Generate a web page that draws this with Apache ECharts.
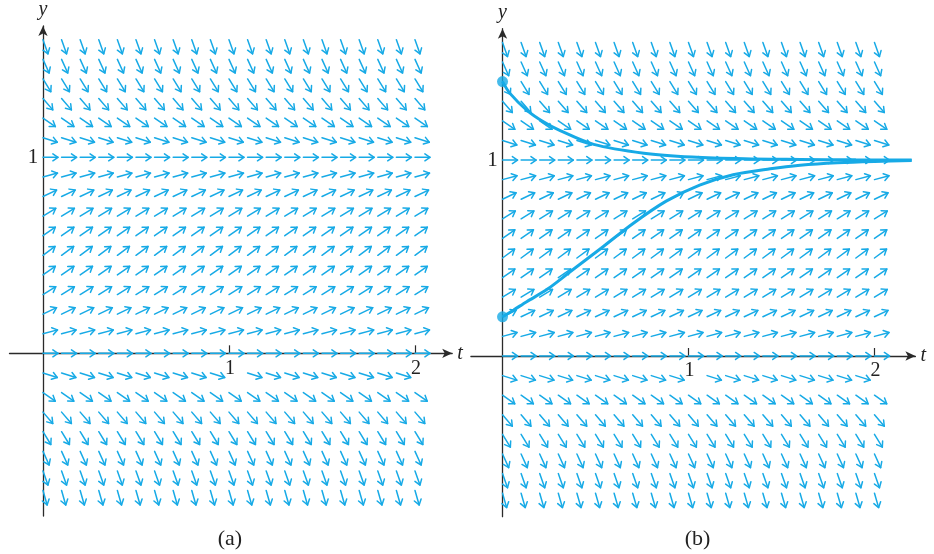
<!DOCTYPE html>
<html>
<head>
<meta charset="utf-8">
<script src="https://cdn.jsdelivr.net/npm/echarts@6/dist/echarts.min.js"></script>
<style>
html,body{margin:0;padding:0;background:#fff;}
#chart{width:934px;height:554px;}
</style>
</head>
<body>
<div id="chart"></div>
<script>
// Grid columns (t) and rows (y) of the slope field
const tColumns = [0,0.1,0.2,0.3,0.4,0.5,0.6,0.7,0.8,0.9,1.0,1.1,1.2,1.3,1.4,1.5,1.6,1.7,1.8,1.9,2.0];
const yRows    = [1.6,1.5,1.4,1.3,1.2,1.1,1.0,0.9,0.8,0.7,0.6,0.5,0.4,0.3,0.2,0.1,0.0,-0.1,-0.2,-0.3,-0.4,-0.5,-0.6,-0.7];
// slope dy/dt read per row (field depends only on y)
const rowSlopes = [-2.7,-2.1,-1.55,-1.1,-0.65,-0.3,0,0.25,0.45,0.58,0.66,0.7,0.66,0.58,0.45,0.25,0,-0.3,-0.67,-1.1,-1.55,-2.1,-2.7,-3.3];
// arrows left out next to the t tick labels: [t, y]
const skippedArrows = [[1.0,-0.1],[2.0,-0.1]];

// Solution curves of panel (b)
const upperT = [0,0.04,0.13,0.22,0.31,0.49,0.76,1.02,1.3,1.6,1.9,2.2];
const upperY = [1.4,1.34,1.255,1.195,1.15,1.08,1.035,1.015,1.006,1.003,1.001,1.0];
const lowerT = [0,0.06,0.13,0.24,0.36,0.53,0.70,0.88,1.06,1.24,1.44,1.6,1.8,2.0,2.2];
const lowerY = [0.2,0.235,0.277,0.34,0.427,0.55,0.675,0.79,0.872,0.925,0.955,0.973,0.986,0.993,0.997];
const initialPoints = [[0,1.4],[0,0.2]];

// Axis tick labels
const tTickLabels = [1,2];
const yTickLabels = [1];
const captions = ['(a)','(b)'];

const BLUE = '#17aae6';
const AXIS = '#2a2a2a';
const SERIF = '"Liberation Serif","DejaVu Serif",serif';

const fieldData = [];
yRows.forEach((y, i) => {
  tColumns.forEach(t => {
    const skip = skippedArrows.some(s => Math.abs(s[0]-t) < 1e-9 && Math.abs(s[1]-y) < 1e-9);
    if (!skip) fieldData.push([t, y, rowSlopes[i]]);
  });
});

function renderArrow(params, api) {
  const t = api.value(0), y = api.value(1), s = api.value(2);
  const p0 = api.coord([t, y]);
  const p1 = api.coord([t + 1, y + s]);
  let dx = p1[0] - p0[0], dy = p1[1] - p0[1];
  const n = Math.hypot(dx, dy); dx /= n; dy /= n;
  const L = 15, H = 6.2, ang = 0.6;
  const tip = [p0[0] + dx * L, p0[1] + dy * L];
  const vx = -dx, vy = -dy, c = Math.cos(ang), sn = Math.sin(ang);
  const a1 = [tip[0] + H * (vx * c - vy * sn), tip[1] + H * (vx * sn + vy * c)];
  const a2 = [tip[0] + H * (vx * c + vy * sn), tip[1] + H * (-vx * sn + vy * c)];
  const st = { stroke: BLUE, lineWidth: 1.5, fill: null, lineCap: 'round', lineJoin: 'round' };
  return {
    type: 'group',
    children: [
      { type: 'line', shape: { x1: p0[0], y1: p0[1], x2: tip[0], y2: tip[1] }, style: st },
      { type: 'polyline', shape: { points: [a1, tip, a2] }, style: st }
    ]
  };
}

function makeX(gi, min, max) {
  return {
    gridIndex: gi, type: 'value', min: min, max: max,
    axisLine: { onZero: true, symbol: ['none', 'arrow'], symbolSize: [7, 10], lineStyle: { color: AXIS, width: 1.3 } },
    axisTick: { show: true, inside: true, length: 8, customValues: tTickLabels, lineStyle: { color: AXIS, width: 1.2 } },
    axisLabel: { show: false },
    splitLine: { show: false },
    name: 't', nameLocation: 'end', nameGap: 5,
    nameTextStyle: { fontFamily: SERIF, fontStyle: 'italic', fontSize: 20, color: '#222' }
  };
}
function makeY(gi, min, max) {
  return {
    gridIndex: gi, type: 'value', min: min, max: max,
    axisLine: { onZero: true, symbol: ['none', 'arrow'], symbolSize: [7, 10], lineStyle: { color: AXIS, width: 1.3 } },
    axisTick: { show: false },
    axisLabel: { show: false },
    splitLine: { show: false },
    name: 'y', nameLocation: 'end', nameGap: 6,
    nameTextStyle: { fontFamily: SERIF, fontStyle: 'italic', fontSize: 20, color: '#222' }
  };
}

const chart = echarts.init(document.getElementById('chart'), null, { renderer: 'canvas' });
chart.setOption({
  backgroundColor: '#ffffff',
  animation: false,
  grid: [
    { left: 9.5, top: 26, width: 442.7, height: 490, containLabel: false, outerBoundsMode: 'none' },
    { left: 470.9, top: 28.7, width: 444.5, height: 488, containLabel: false, outerBoundsMode: 'none' }
  ],
  xAxis: [makeX(0, -0.18, 2.2), makeX(1, -0.17, 2.22)],
  yAxis: [makeY(0, -0.83, 1.67), makeY(1, -0.82, 1.67)],
  series: [
    { type: 'custom', xAxisIndex: 0, yAxisIndex: 0, renderItem: renderArrow, data: fieldData, z: 3, silent: true },
    { type: 'custom', xAxisIndex: 1, yAxisIndex: 1, renderItem: renderArrow, data: fieldData, z: 3, silent: true },
    { type: 'line', xAxisIndex: 1, yAxisIndex: 1, data: upperT.map((t, i) => [t, upperY[i]]),
      smooth: 0.3, showSymbol: false, lineStyle: { color: BLUE, width: 3 }, z: 4, silent: true },
    { type: 'line', xAxisIndex: 1, yAxisIndex: 1, data: lowerT.map((t, i) => [t, lowerY[i]]),
      smooth: 0.3, showSymbol: false, lineStyle: { color: BLUE, width: 3 }, z: 4, silent: true },
    { type: 'scatter', xAxisIndex: 1, yAxisIndex: 1, data: initialPoints, symbolSize: 11,
      itemStyle: { color: BLUE }, z: 5, silent: true }
  ]
});

// Tick labels and captions placed through the axes' own scales
const gfx = [];
[0, 1].forEach(gi => {
  tTickLabels.forEach(v => {
    const p = chart.convertToPixel({ gridIndex: gi }, [v, 0]);
    gfx.push({ type: 'text', x: p[0] + 1, y: p[1] + 15, z: 10,
      style: { text: String(v), font: '20px ' + SERIF, fill: '#222', align: 'center', verticalAlign: 'middle' } });
  });
  yTickLabels.forEach(v => {
    const p = chart.convertToPixel({ gridIndex: gi }, [0, v]);
    gfx.push({ type: 'text', x: p[0] - 10, y: p[1], z: 10,
      style: { text: String(v), font: '21px ' + SERIF, fill: '#222', align: 'center', verticalAlign: 'middle' } });
  });
  const pc = chart.convertToPixel({ gridIndex: gi }, [1, -0.83]);
  gfx.push({ type: 'text', x: pc[0] + (gi === 0 ? 1 : 9), y: 539, z: 10,
    style: { text: captions[gi], font: '22px ' + SERIF, fill: '#222', align: 'center', verticalAlign: 'middle' } });
});
chart.setOption({ graphic: gfx });
</script>
</body>
</html>
